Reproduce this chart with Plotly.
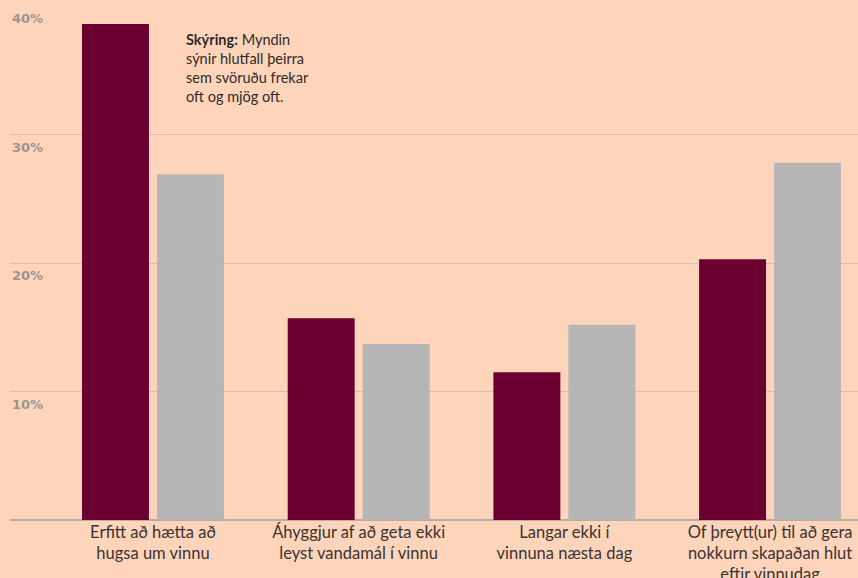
import plotly.graph_objects as go

categories = ["Erfitt að hætta að<br>hugsa um vinnu",
              "Áhyggjur af að geta ekki<br>leyst vandamál í vinnu",
              "Langar ekki í<br>vinnuna næsta dag",
              "Of þreytt(ur) til að gera<br>nokkurn skapaðan hlut<br>eftir vinnudag"]
series_a = [38.6, 15.7, 11.5, 20.3]
series_b = [26.9, 13.7, 15.2, 27.8]
tick_vals = [10, 20, 30, 40]
tick_labels = ["10%", "20%", "30%", "40%"]

BG = "#fed5bb"
fig = go.Figure()
fig.add_trace(go.Bar(x=categories, y=series_a, marker_color="#6b0030", marker_line_width=0, showlegend=False))
fig.add_trace(go.Bar(x=categories, y=series_b, marker_color="#b6b6b6", marker_line_width=0, showlegend=False))

fig.update_layout(
    width=858, height=578,
    margin=dict(l=10, r=0, t=6, b=58),
    paper_bgcolor=BG, plot_bgcolor=BG,
    barmode="group", bargap=0.271, bargroupgap=0.107,
    font=dict(family="Lato, sans-serif", color="#3a3330"),
    xaxis=dict(range=[-0.695, 3.4275], showgrid=False, showline=False, ticks="",
               tickfont=dict(size=16.5, color="#3a3330"), automargin=False),
    yaxis=dict(range=[0, 40], tickvals=tick_vals, showticklabels=False,
               gridcolor="#dcbcaa", gridwidth=1, zeroline=True, zerolinecolor="#b9aca4",
               zerolinewidth=1.5, showline=False),
)

for v, t in zip(tick_vals, tick_labels):
    fig.add_annotation(x=0, xref="paper", y=v, yref="y", text=t, showarrow=False,
                       xanchor="left", yanchor="top", yshift=-3,
                       font=dict(family="DejaVu Sans", size=13, color="#9a9592", weight="bold"))

fig.add_annotation(x=(184 - 10) / 848, xref="paper", y=1 - 23 / 514, yref="paper",
                   text="<b>Skýring:</b> Myndin<br>sýnir hlutfall þeirra<br>sem svöruðu frekar<br>oft og mjög oft.",
                   showarrow=False, align="left", xanchor="left", yanchor="top",
                   font=dict(family="Lato, sans-serif", size=14.5, color="#2e2a28"))

fig.write_html("out.html", post_script="document.body.style.margin='0';",
               config={"displayModeBar": False})
